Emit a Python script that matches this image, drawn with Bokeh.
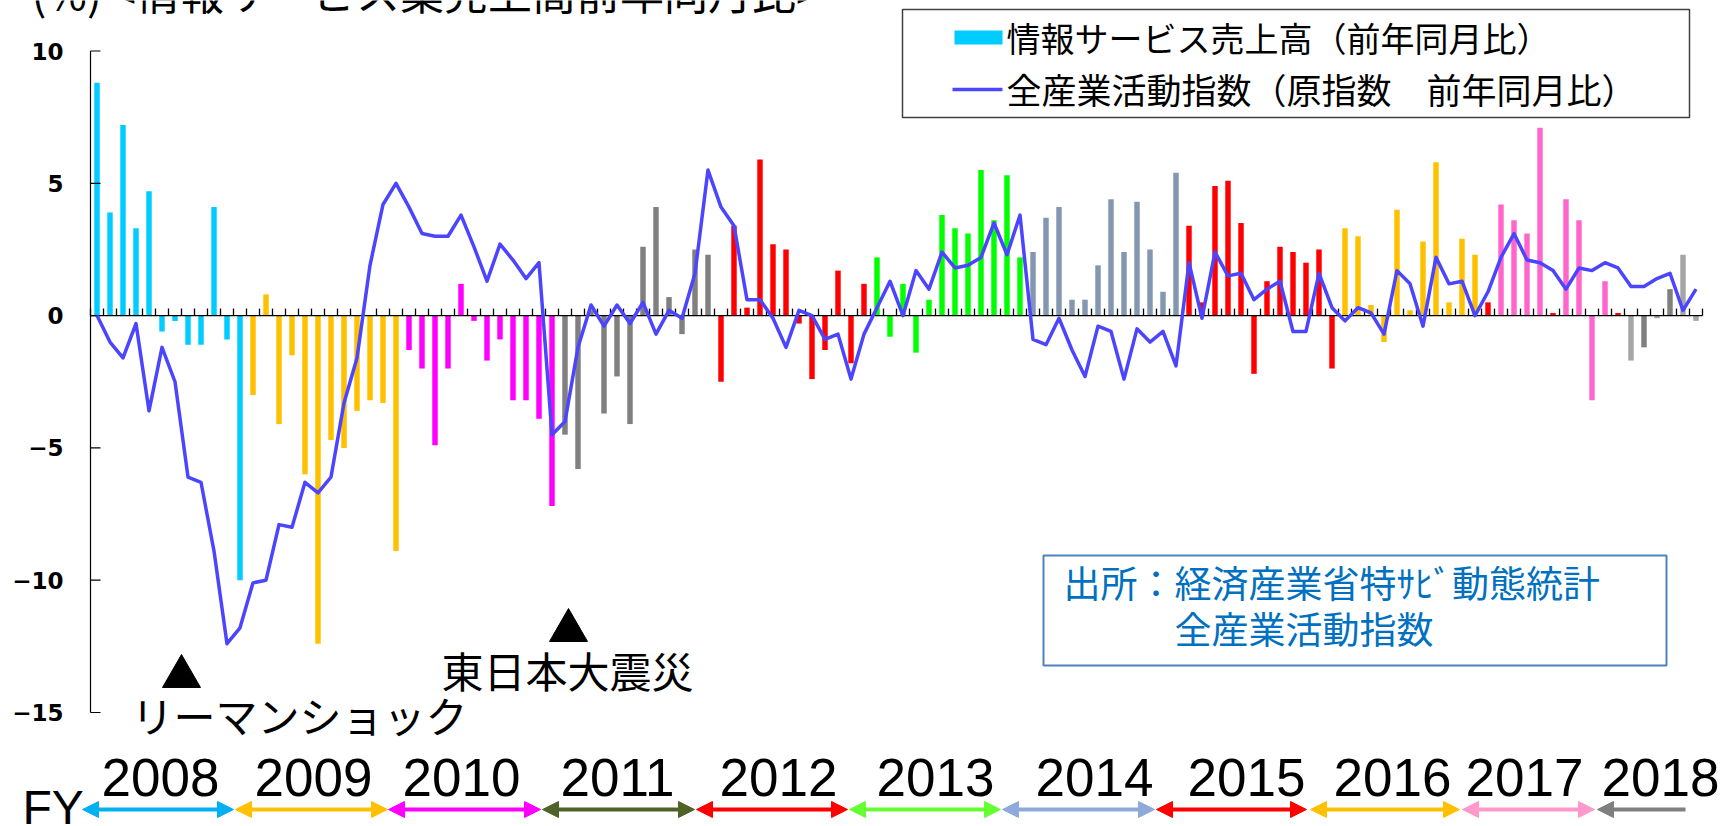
from bokeh.plotting import figure
from bokeh.models import Range1d, Label, Arrow, NormalHead, ColumnDataSource
from bokeh.core.properties import value
from bokeh.embed import file_html
from bokeh.resources import INLINE

# ---------------- data ----------------
fiscal_years = ["2008", "2009", "2010", "2011", "2012", "2013", "2014", "2015", "2016", "2017", "2018"]
months_per_fy = [12, 12, 12, 12, 12, 12, 12, 12, 12, 12, 4]
y_ticks = [-15, -10, -5, 0, 5, 10]
y_tick_labels = ["\u221215", "\u221210", "\u22125", "0", "5", "10"]

# 情報サービス売上高（前年同月比） monthly, FY2008 Apr .. FY2018 Jul
info_fy2008 = [8.8, 3.9, 7.2, 3.3, 4.7, -0.6, -0.2, -1.1, -1.1, 4.1, -0.9, -10.0]
info_fy2009 = [-3.0, 0.8, -4.1, -1.5, -6.0, -12.4, -4.7, -5.0, -3.6, -3.2, -3.3, -8.9]
info_fy2010 = [-1.3, -2.0, -4.9, -2.0, 1.2, -0.2, -1.7, -0.9, -3.2, -3.2, -3.9, -7.2]
info_fy2011 = [-4.5, -5.8, 0.2, -3.7, -2.3, -4.1, 2.6, 4.1, 0.7, -0.7, 2.5, 2.3]
info_fy2012 = [-2.5, 3.4, 0.3, 5.9, 2.7, 2.5, -0.3, -2.4, -1.3, 1.7, -1.8, 1.2]
info_fy2013 = [2.2, -0.8, 1.2, -1.4, 0.6, 3.8, 3.3, 3.1, 5.5, 3.6, 5.3, 2.2]
info_fy2014 = [2.4, 3.7, 4.1, 0.6, 0.6, 1.9, 4.4, 2.4, 4.3, 2.5, 0.9, 5.4]
info_fy2015 = [3.4, 0.5, 4.9, 5.1, 3.5, -2.2, 1.3, 2.6, 2.4, 2.0, 2.5, -2.0]
info_fy2016 = [3.3, 3.0, 0.4, -1.0, 4.0, 0.2, 2.8, 5.8, 0.5, 2.9, 2.3, 0.5]
info_fy2017 = [4.2, 3.6, 3.1, 7.1, 0.1, 4.4, 3.6, -3.2, 1.3, 0.1, -1.7, -1.2]
info_fy2018 = [-0.1, 1.0, 2.3, -0.2]

# 全産業活動指数（原指数 前年同月比）
iip_fy2008 = [0.0, -1.0, -1.6, -0.3, -3.6, -1.2, -2.5, -6.1, -6.3, -8.9, -12.4, -11.8]
iip_fy2009 = [-10.1, -10.0, -7.9, -8.0, -6.3, -6.7, -6.1, -3.3, -1.6, 1.9, 4.2, 5.0]
iip_fy2010 = [4.1, 3.1, 3.0, 3.0, 3.8, 2.6, 1.3, 2.7, 2.1, 1.4, 2.0, -4.5]
iip_fy2011 = [-4.0, -1.2, 0.4, -0.4, 0.4, -0.3, 0.5, -0.7, 0.2, -0.1, 1.6, 5.5]
iip_fy2012 = [4.1, 3.4, 0.6, 0.6, -0.1, -1.2, 0.2, 0.0, -0.9, -0.7, -2.4, -0.7]
iip_fy2013 = [0.3, 1.3, 0.0, 1.7, 1.0, 2.4, 1.8, 1.9, 2.2, 3.5, 2.3, 3.8]
iip_fy2014 = [-0.9, -1.1, -0.1, -1.3, -2.3, -0.4, -0.6, -2.4, -0.5, -1.0, -0.6, -1.9]
iip_fy2015 = [2.0, -0.1, 2.4, 1.5, 1.6, 0.6, 1.0, 1.3, -0.6, -0.6, 1.6, 0.3]
iip_fy2016 = [-0.2, 0.3, 0.1, -0.7, 1.7, 1.2, -0.4, 2.2, 1.2, 1.3, 0.0, 0.9]
iip_fy2017 = [2.2, 3.1, 2.1, 2.0, 1.7, 1.0, 1.8, 1.7, 2.0, 1.8, 1.1, 1.1]
iip_fy2018 = [1.4, 1.6, 0.2, 1.0]

info_service_yoy = (info_fy2008 + info_fy2009 + info_fy2010 + info_fy2011 + info_fy2012 + info_fy2013
                    + info_fy2014 + info_fy2015 + info_fy2016 + info_fy2017 + info_fy2018)
all_industry_yoy = (iip_fy2008 + iip_fy2009 + iip_fy2010 + iip_fy2011 + iip_fy2012 + iip_fy2013
                    + iip_fy2014 + iip_fy2015 + iip_fy2016 + iip_fy2017 + iip_fy2018)

legend_labels = ["情報サービス売上高（前年同月比）", "全産業活動指数（原指数　前年同月比）"]
title_text = "(%) <情報サービス業売上高前年同月比>"
source_lines = ["出所：経済産業省特ｻﾋﾞ動態統計", "全産業活動指数"]
event_labels = ["リーマンショック", "東日本大震災"]

# ---------------- styles ----------------
fy_bar_colors = ["#00CCFF", "#FFC000", "#FF00FF", "#808080", "#FF0000", "#00FF00",
                 "#8497B0", "#FF0000", "#FFC000", "#FF66CC", "#A6A6A6"]
fy_arrow_colors = ["#00B0F0", "#FFC000", "#FF00FF", "#4F6228", "#FF0000", "#66FF33",
                   "#8EAADB", "#FF0000", "#FFC000", "#FF99CC", "#7F7F7F"]
bar_color_overrides = {107: "#FF0000", 112: "#FF0000", 117: "#FF0000", 118: "#A6A6A6",
                       119: "#808080", 120: "#A6A6A6", 121: "#808080", 122: "#A6A6A6", 123: "#A6A6A6"}
LINE_COLOR = "#4B45FF"
CJK = "Noto Sans CJK JP"
LATIN = "Liberation Sans"

bar_colors = []
for c, n in zip(fy_bar_colors, months_per_fy):
    bar_colors += [c] * n
for k, c in bar_color_overrides.items():
    bar_colors[k] = c

n = len(info_service_yoy)
xs = list(range(n))

# ---------------- geometry (pixel layout of reference) ----------------
W, H = 1722, 826
PX_LEFT, PX_CAT = 90.0, 13.0          # x pixel of category edge -0.5 ; px per month
PY_ZERO, PX_UNIT = 315.1, 26.46       # y pixel of value 0 ; px per 1 %


def dx(px):
    return (px - PX_LEFT) / PX_CAT - 0.5


def dy(py):
    return (PY_ZERO - py) / PX_UNIT


p = figure(width=W, height=H, output_backend="svg", toolbar_location=None,
           x_range=Range1d(dx(0), dx(W)), y_range=Range1d(dy(H), dy(0)),
           x_axis_location=None, y_axis_location=None,
           min_border_left=0, min_border_right=0, min_border_top=0, min_border_bottom=0)
p.outline_line_color = None
p.xgrid.visible = False
p.ygrid.visible = False
p.background_fill_color = "white"
p.border_fill_color = "white"

# bars
src = ColumnDataSource(dict(x=xs, top=info_service_yoy, color=bar_colors))
p.vbar(x="x", top="top", bottom=0, width=0.42, fill_color="color", line_color=None, source=src)

# value axis (drawn at the left edge of the month scale)
p.segment(x0=[-0.5], y0=[y_ticks[0]], x1=[-0.5], y1=[y_ticks[-1]], line_color="black", line_width=1.2)
p.segment(x0=[-0.5] * len(y_ticks), y0=y_ticks, x1=[-0.5 + 10 / PX_CAT] * len(y_ticks), y1=y_ticks,
          line_color="black", line_width=1.2)
p.text(x=[dx(63)] * len(y_ticks), y=y_ticks, text=y_tick_labels, text_align="right",
       text_baseline="middle", text_font=value("DejaVu Sans"), text_font_style="bold",
       text_font_size=value("23px"), text_color="black")

# month axis line at 0 with small ticks between months
p.segment(x0=[-0.5], y0=[0], x1=[n - 0.5], y1=[0], line_color="black", line_width=1.3)
bounds = [i - 0.5 for i in range(n + 1)]
p.segment(x0=bounds, y0=[0] * len(bounds), x1=bounds, y1=[7 / PX_UNIT] * len(bounds),
          line_color="black", line_width=1.3)

# line series
p.line(xs, all_industry_yoy, line_color=LINE_COLOR, line_width=3.5, line_join="round")

# legend box (custom)
p.quad(left=[dx(902)], right=[dx(1689)], top=[dy(9)], bottom=[dy(117)],
       fill_color="white", line_color="#404040", line_width=1.5)
p.quad(left=[dx(954)], right=[dx(1002)], top=[dy(30)], bottom=[dy(44)],
       fill_color=fy_bar_colors[0], line_color=None)
p.segment(x0=[dx(952)], y0=[dy(89)], x1=[dx(1002)], y1=[dy(89)], line_color=LINE_COLOR, line_width=3.5)
p.add_layout(Label(x=dx(1006), y=dy(37), text=legend_labels[0], text_font=CJK, text_font_size="34px",
                   text_baseline="middle", text_align="left", text_color="black"))
p.add_layout(Label(x=dx(1006), y=dy(88), text=legend_labels[1], text_font=CJK, text_font_size="35px",
                   text_baseline="middle", text_align="left", text_color="black"))

# source box
p.quad(left=[dx(1043)], right=[dx(1666)], top=[dy(555)], bottom=[dy(665)],
       fill_color="white", line_color="#4F81BD", line_width=2)
p.add_layout(Label(x=dx(1063), y=dy(581), text=source_lines[0], text_font=CJK, text_font_size="37px",
                   text_baseline="middle", text_color="#0070C0"))
p.add_layout(Label(x=dx(1174), y=dy(627), text=source_lines[1], text_font=CJK, text_font_size="37px",
                   text_baseline="middle", text_color="#0070C0"))

# events
p.scatter(x=[dx(181), dx(568)], y=[dy(676), dy(630)], marker="triangle", size=38,
          fill_color="black", line_color="black")
p.add_layout(Label(x=dx(131), y=dy(714), text=event_labels[0], text_font=CJK, text_font_size="42px",
                   text_baseline="middle", text_color="black"))
p.add_layout(Label(x=dx(441), y=dy(669), text=event_labels[1], text_font=CJK, text_font_size="42px",
                   text_baseline="middle", text_color="black"))

# title (cut at top edge, as in the reference)
p.add_layout(Label(x=dx(31), y=dy(-10), text=title_text, text_font=CJK, text_font_size="44px",
                   text_baseline="middle", text_color="black"))

# fiscal-year labels and arrows
fy_label_px = [160, 313, 461, 617, 778, 935, 1094, 1246, 1392, 1524, 1660]
fy_arrow_px = [(82, 233), (235, 387), (388, 540), (542, 694), (696, 847), (849, 1000),
               (1002, 1154), (1156, 1306), (1310, 1459), (1462, 1594), (1597, 1685)]
for i, fy in enumerate(fiscal_years):
    p.add_layout(Label(x=dx(fy_label_px[i]), y=dy(777), text=fy, text_font=LATIN,
                       text_font_size="53px", text_align="center", text_baseline="middle",
                       text_color="black"))
    c = fy_arrow_colors[i]
    s, e = fy_arrow_px[i]
    end_head = NormalHead(size=16, fill_color=c, line_color=c) if i < len(fiscal_years) - 1 else None
    p.add_layout(Arrow(x_start=dx(s), y_start=dy(809), x_end=dx(e), y_end=dy(809),
                       start=NormalHead(size=16, fill_color=c, line_color=c), end=end_head,
                       line_color=c, line_width=4))
p.add_layout(Label(x=dx(22), y=dy(807), text="FY", text_font=LATIN, text_font_size="48px",
                   text_baseline="middle", text_color="black"))

open("out.html", "w").write(file_html(p, INLINE))
